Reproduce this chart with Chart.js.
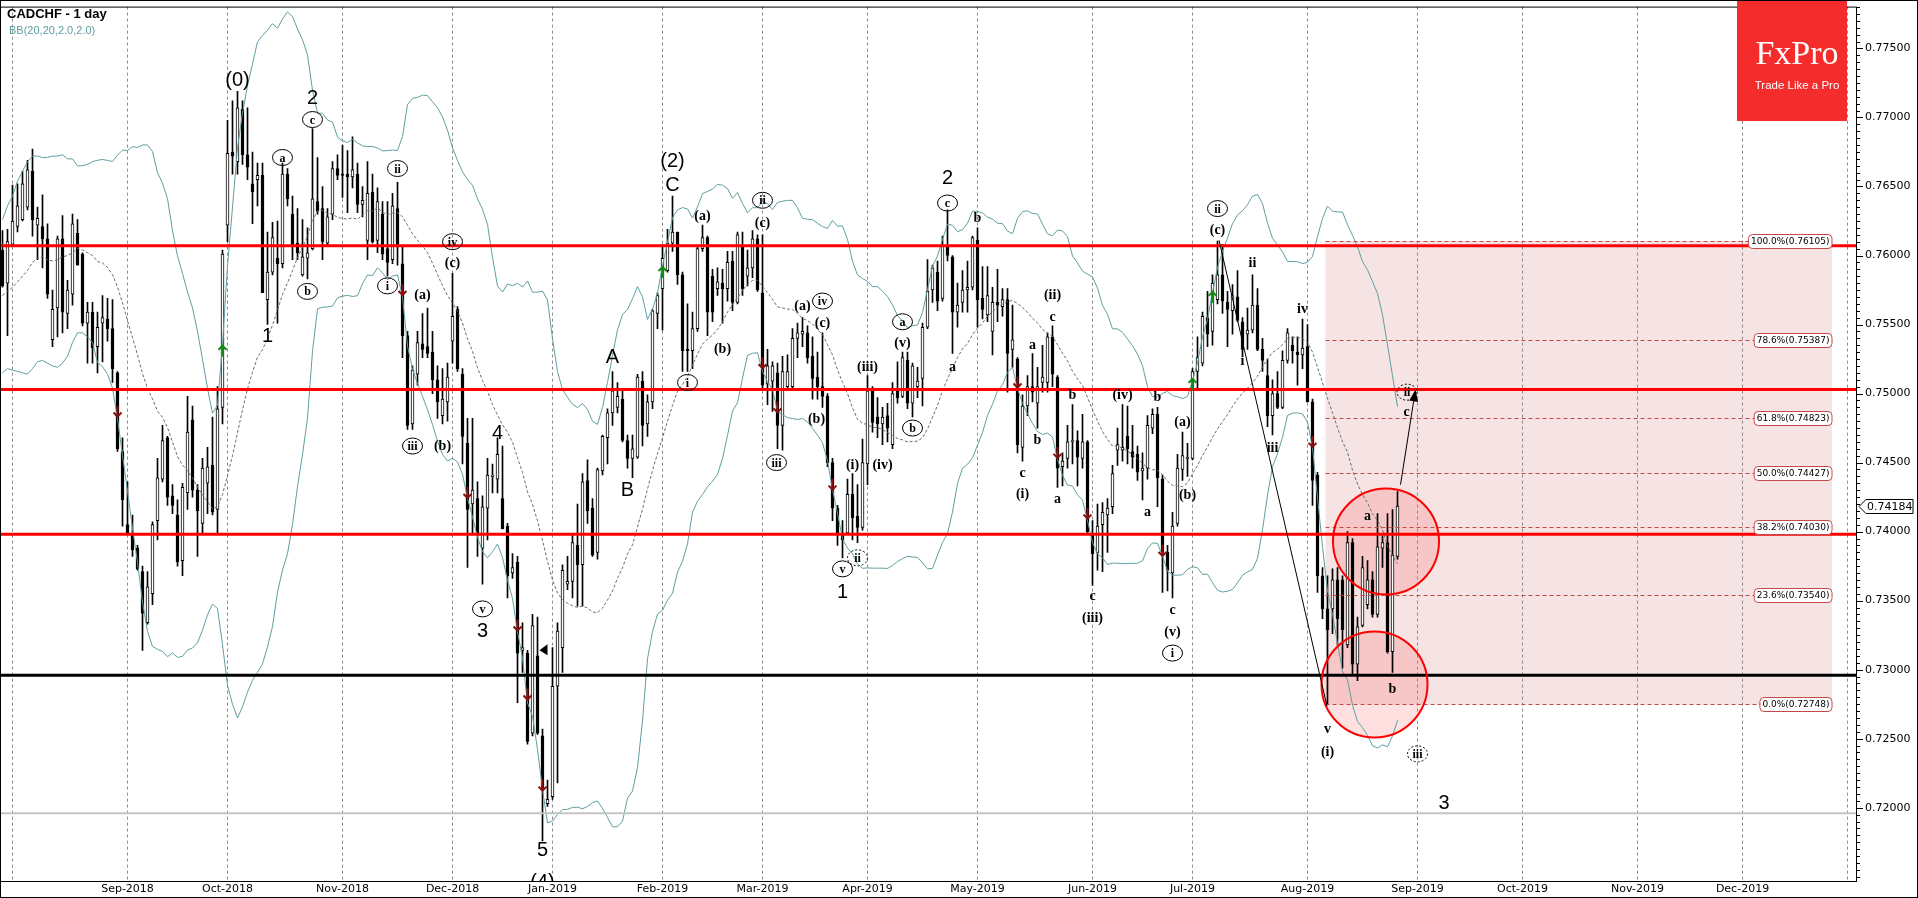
<!DOCTYPE html>
<html>
<head>
<meta charset="utf-8">
<script src="https://cdn.jsdelivr.net/npm/chart.js"></script>
<style>
html, body { margin: 0; padding: 0; background: #fff; }
canvas { display: block; }
</style>
</head>
<body>
<canvas id="chart" width="1918" height="898"></canvas>
<script>
// CADCHF daily candles, first bar = Jul 30 2018 (index -2), index 0 = Aug 1 2018
const firstBar = -2;

const opens = [
  0.7604,0.7580,0.7608,0.7621,0.7626,0.7635,0.7661,0.7622,0.7621,0.7612,
  0.7539,0.7562,0.7612,0.7558,0.7572,0.7616,0.7601,0.7551,0.7559,0.7534,
  0.7551,0.7554,0.7547,0.7515,0.7458,0.7405,0.7399,0.7388,0.7371,0.7334,
  0.7355,0.7408,0.7438,0.7468,0.7426,0.7412,0.7379,0.7428,0.7481,0.7430,
  0.7406,0.7435,0.7448,0.7416,0.7490,0.7622,0.7675,0.7668,0.7706,0.7673,
  0.7652,0.7655,0.7658,0.7568,0.7588,0.7598,0.7594,0.7659,0.7630,0.7609,
  0.7586,0.7598,0.7605,0.7639,0.7634,0.7609,0.7630,0.7663,0.7659,0.7659,
  0.7657,0.7659,0.7637,0.7611,0.7646,0.7611,0.7630,0.7605,0.7597,0.7634,
  0.7594,0.7542,0.7478,0.7514,0.7536,0.7534,0.7530,0.7510,0.7484,0.7494,
  0.7538,0.7561,0.7514,0.7464,0.7420,0.7424,0.7388,0.7417,0.7440,0.7438,
  0.7424,0.7404,0.7370,0.7378,0.7314,0.7312,0.7254,0.7310,0.7252,0.7203,
  0.7208,0.7288,0.7316,0.7362,0.7364,0.7390,0.7376,0.7437,0.7417,0.7385,
  0.7444,0.7468,0.7486,0.7490,0.7496,0.7466,0.7453,0.7454,0.7509,0.7478,
  0.7494,0.7558,0.7576,0.7589,0.7609,0.7617,0.7586,0.7532,0.7531,0.7547,
  0.7605,0.7613,0.7585,0.7576,0.7580,0.7576,0.7596,0.7566,0.7606,0.7585,
  0.7591,0.7612,0.7573,0.7507,0.7509,0.7515,0.7477,0.7505,0.7505,0.7540,
  0.7543,0.7544,0.7527,0.7512,0.7505,0.7498,0.7450,0.7417,0.7399,0.7399,
  0.7427,0.7411,0.7403,0.7449,0.7502,0.7483,0.7478,0.7484,0.7463,0.7502,
  0.7498,0.7524,0.7493,0.7505,0.7511,0.7548,0.7575,0.7588,0.7569,0.7607,
  0.7599,0.7559,0.7566,0.7575,0.7577,0.7611,0.7569,0.7557,0.7545,0.7566,
  0.7563,0.7568,0.7532,0.7525,0.7461,0.7491,0.7505,0.7493,0.7508,0.7508,
  0.7541,0.7512,0.7447,0.7453,0.7465,0.7466,0.7453,0.7465,0.7399,0.7385,
  0.7405,0.7412,0.7418,0.7459,0.7459,0.7469,0.7458,0.7456,0.7444,0.7446,
  0.7475,0.7485,0.7438,0.7385,0.7370,0.7406,0.7445,0.7453,0.7453,0.7516,
  0.7522,0.7555,0.7545,0.7568,0.7586,0.7566,0.7560,0.7570,0.7552,0.7543,
  0.7546,0.7564,0.7532,0.7513,0.7484,0.7500,0.7490,0.7524,0.7535,0.7530,
  0.7528,0.7534,0.7494,0.7441,0.7368,0.7344,0.7344,0.7365,0.7365,0.7318,
  0.7392,0.7304,0.7332,0.7347,0.7365,0.7340,0.7388,0.7392,0.7313,0.7382
];
const highs = [
  0.7618,0.7619,0.7651,0.7652,0.7661,0.7669,0.7677,0.7635,0.7644,0.7623,
  0.7575,0.7614,0.7629,0.7582,0.7630,0.7626,0.7602,0.7566,0.7566,0.7559,
  0.7571,0.7569,0.7568,0.7516,0.7468,0.7436,0.7412,0.7390,0.7375,0.7371,
  0.7407,0.7453,0.7477,0.7469,0.7434,0.7423,0.7435,0.7498,0.7491,0.7434,
  0.7453,0.7461,0.7483,0.7505,0.7604,0.7698,0.7712,0.7719,0.7712,0.7707,
  0.7675,0.7667,0.7667,0.7617,0.7624,0.7625,0.7667,0.7663,0.7643,0.7634,
  0.7626,0.7620,0.7692,0.7671,0.7650,0.7634,0.7668,0.7673,0.7680,0.7676,
  0.7686,0.7667,0.7650,0.7668,0.7659,0.7649,0.7639,0.7639,0.7645,0.7653,
  0.7606,0.7545,0.7520,0.7545,0.7558,0.7562,0.7545,0.7520,0.7518,0.7522,
  0.7587,0.7563,0.7518,0.7482,0.7482,0.7436,0.7426,0.7453,0.7449,0.7468,
  0.7462,0.7406,0.7384,0.7382,0.7334,0.7314,0.7340,0.7338,0.7257,0.7220,
  0.7316,0.7334,0.7376,0.7382,0.7398,0.7420,0.7442,0.7452,0.7424,0.7446,
  0.7470,0.7489,0.7516,0.7508,0.7502,0.7470,0.7470,0.7514,0.7516,0.7499,
  0.7561,0.7573,0.7608,0.7619,0.7643,0.7617,0.7588,0.7565,0.7559,0.7607,
  0.7622,0.7614,0.7590,0.7591,0.7590,0.7603,0.7603,0.7617,0.7617,0.7604,
  0.7618,0.7615,0.7615,0.7532,0.7523,0.7522,0.7527,0.7528,0.7547,0.7551,
  0.7555,0.7549,0.7541,0.7530,0.7544,0.7500,0.7453,0.7419,0.7408,0.7438,
  0.7442,0.7434,0.7467,0.7513,0.7505,0.7497,0.7490,0.7493,0.7508,0.7523,
  0.7530,0.7530,0.7522,0.7519,0.7551,0.7597,0.7593,0.7596,0.7614,0.7633,
  0.7600,0.7580,0.7589,0.7596,0.7614,0.7620,0.7592,0.7592,0.7577,0.7590,
  0.7576,0.7576,0.7564,0.7526,0.7499,0.7513,0.7529,0.7519,0.7535,0.7544,
  0.7549,0.7513,0.7457,0.7477,0.7492,0.7473,0.7485,0.7466,0.7408,0.7420,
  0.7421,0.7424,0.7448,0.7475,0.7492,0.7491,0.7477,0.7462,0.7457,0.7484,
  0.7489,0.7490,0.7441,0.7390,0.7414,0.7456,0.7472,0.7464,0.7518,0.7541,
  0.7559,0.7574,0.7586,0.76105,0.7608,0.7574,0.7579,0.7589,0.7555,0.7562,
  0.7586,0.7576,0.7540,0.7525,0.7510,0.7516,0.7531,0.7547,0.7541,0.7541,
  0.7554,0.7550,0.7496,0.7443,0.7374,0.7368,0.7373,0.7374,0.7368,0.7400,
  0.7395,0.7338,0.7382,0.7379,0.7371,0.7413,0.7397,0.7413,0.7416,0.7429
];
const lows = [
  0.7577,0.7542,0.7607,0.7617,0.7625,0.7633,0.7614,0.7597,0.7591,0.7569,
  0.7534,0.7541,0.7544,0.7547,0.7564,0.7593,0.7549,0.7522,0.7522,0.7515,
  0.7523,0.7538,0.7508,0.7458,0.7404,0.7398,0.7382,0.7372,0.7314,0.7333,
  0.7347,0.7394,0.7436,0.7419,0.7413,0.7375,0.7368,0.7416,0.7425,0.7382,
  0.7399,0.7413,0.7412,0.7398,0.7478,0.7610,0.7659,0.7659,0.7666,0.7655,
  0.7623,0.7636,0.7573,0.7550,0.7586,0.7551,0.7591,0.7636,0.7597,0.7597,
  0.7585,0.7583,0.7604,0.7630,0.7597,0.7607,0.7626,0.7655,0.7642,0.7631,
  0.7649,0.7631,0.7628,0.7597,0.7609,0.7602,0.7597,0.7585,0.7594,0.7593,
  0.7526,0.7474,0.7474,0.7506,0.7526,0.7526,0.7500,0.7482,0.7478,0.7480,
  0.7522,0.7516,0.7449,0.7374,0.7398,0.7382,0.7362,0.7394,0.7428,0.7428,
  0.7402,0.7352,0.7366,0.7276,0.7298,0.7246,0.7252,0.7253,0.7176,0.7201,
  0.7206,0.7218,0.7298,0.7358,0.7352,0.7346,0.7346,0.7406,0.7382,0.7380,
  0.7441,0.7449,0.7477,0.7486,0.7465,0.7446,0.7439,0.7453,0.7462,0.7469,
  0.7489,0.7547,0.7546,0.7588,0.7603,0.7579,0.7516,0.7516,0.7518,0.7545,
  0.7603,0.7542,0.7552,0.7571,0.7551,0.7567,0.7560,0.7565,0.7571,0.7578,
  0.7584,0.7574,0.7504,0.7492,0.7487,0.7460,0.7459,0.7504,0.7504,0.7526,
  0.7534,0.7522,0.7496,0.7496,0.7490,0.7447,0.7408,0.7390,0.7381,0.7398,
  0.7394,0.7392,0.7401,0.7434,0.7472,0.7468,0.7463,0.7465,0.7460,0.7493,
  0.7497,0.7489,0.7483,0.7497,0.7491,0.7547,0.7566,0.7560,0.7567,0.7596,
  0.7529,0.7548,0.7559,0.7559,0.7575,0.7548,0.7554,0.7552,0.7528,0.7552,
  0.7556,0.7501,0.7519,0.7457,0.7451,0.7484,0.7494,0.7475,0.7501,0.7501,
  0.7505,0.7432,0.7433,0.7446,0.7449,0.7433,0.7446,0.7399,0.7361,0.7372,
  0.7371,0.7385,0.7413,0.7448,0.7451,0.7449,0.7446,0.7437,0.7423,0.7438,
  0.7471,0.7418,0.7356,0.7357,0.7352,0.7404,0.7437,0.7440,0.7452,0.7503,
  0.7520,0.7534,0.7535,0.7565,0.7558,0.7534,0.7543,0.7552,0.7528,0.7532,
  0.7544,0.7531,0.7516,0.7476,0.7470,0.7489,0.7489,0.7522,0.7522,0.7506,
  0.7518,0.7494,0.7419,0.7356,0.7337,0.72748,0.7326,0.7318,0.7301,0.7316,
  0.7297,0.7292,0.7331,0.7344,0.7338,0.7338,0.7374,0.7312,0.7298,0.7380
];
const closes = [
  0.7578,0.7610,0.7625,0.7636,0.7652,0.7662,0.7626,0.7627,0.7612,0.7572,
  0.7561,0.7612,0.7559,0.7575,0.7623,0.7593,0.7551,0.7559,0.7533,0.7548,
  0.7555,0.7547,0.7518,0.7460,0.7423,0.7399,0.7387,0.7373,0.7341,0.7360,
  0.7405,0.7439,0.7466,0.7425,0.7419,0.7378,0.7432,0.7472,0.7430,0.7415,
  0.7446,0.7447,0.7414,0.7489,0.7601,0.7674,0.7672,0.7707,0.7673,0.7664,
  0.7646,0.7658,0.7573,0.7588,0.7613,0.7594,0.7659,0.7641,0.7607,0.7602,
  0.7599,0.7602,0.7641,0.7632,0.7610,0.7628,0.7663,0.7658,0.7658,0.7657,
  0.7662,0.7637,0.7640,0.7645,0.7610,0.7639,0.7601,0.7595,0.7636,0.7607,
  0.7542,0.7477,0.7517,0.7537,0.7532,0.7529,0.7510,0.7494,0.7496,0.7512,
  0.7556,0.7518,0.7469,0.7416,0.7430,0.7398,0.7418,0.7441,0.7441,0.7456,
  0.7402,0.7368,0.7374,0.7312,0.7316,0.7248,0.7332,0.7254,0.7214,0.7206,
  0.7288,0.7328,0.7372,0.7364,0.7392,0.7376,0.7436,0.7415,0.7383,0.7445,
  0.7469,0.7486,0.7502,0.7498,0.7466,0.7453,0.7460,0.7512,0.7477,0.7494,
  0.7560,0.7571,0.7598,0.7609,0.7617,0.7586,0.7531,0.7531,0.7547,0.7605,
  0.7613,0.7559,0.7559,0.7581,0.7576,0.7595,0.7566,0.7615,0.7576,0.7591,
  0.7612,0.7575,0.7506,0.7520,0.7520,0.7477,0.7516,0.7516,0.7540,0.7544,
  0.7545,0.7526,0.7511,0.7505,0.7498,0.7450,0.7417,0.7399,0.7394,0.7427,
  0.7410,0.7403,0.7450,0.7502,0.7479,0.7478,0.7483,0.7475,0.7500,0.7497,
  0.7526,0.7493,0.7520,0.7509,0.7548,0.7574,0.7591,0.7567,0.7607,0.7600,
  0.7559,0.7564,0.7575,0.7577,0.7613,0.7568,0.7561,0.7571,0.7566,0.7564,
  0.7568,0.7529,0.7539,0.7463,0.7491,0.7505,0.7501,0.7505,0.7512,0.7541,
  0.7514,0.7446,0.7451,0.7465,0.7466,0.7454,0.7465,0.7400,0.7384,0.7404,
  0.7414,0.7417,0.7442,0.7463,0.7461,0.7460,0.7454,0.7443,0.7446,0.7477,
  0.7485,0.7439,0.7385,0.7372,0.7404,0.7446,0.7455,0.7454,0.7516,0.7526,
  0.7556,0.7543,0.7580,0.7586,0.7567,0.7561,0.7571,0.7553,0.7532,0.7546,
  0.7564,0.7532,0.7524,0.7484,0.7500,0.7490,0.7524,0.7544,0.7531,0.7528,
  0.7533,0.7494,0.7437,0.7368,0.7344,0.7329,0.7365,0.7337,0.7329,0.7392,
  0.7304,0.7331,0.7374,0.7365,0.7340,0.7389,0.7392,0.7313,0.7383,0.74184
];

// Bollinger bands for the bars before a full 20-bar window exists
const bbHeadUpper = [0.7626,0.7636,0.7643,0.7654,0.7661,0.7668,0.7672,0.7672,0.7671,0.7671,
                     0.7672,0.7672,0.7673,0.7670,0.7670,0.7665,0.7665,0.7666,0.7668];
const bbHeadMid   = [0.7571,0.7574,0.7577,0.7581,0.7585,0.7589,0.7595,0.7598,0.7599,0.7597,
                     0.7596,0.7597,0.7599,0.7600,0.7602,0.7605,0.7604,0.7602,0.7600];
const bbHeadLower = [0.7515,0.7518,0.7517,0.7516,0.7515,0.7514,0.7518,0.7523,0.7524,0.7522,
                     0.7520,0.7519,0.7522,0.7527,0.7537,0.7544,0.7544,0.7541,0.7537];

// axes
const monthTickIdx = [0, 23, 43, 66, 88, 108, 130, 150, 171, 193, 216, 236, 259, 281, 302, 325, 346, 367];
const monthTickLabels = ['', 'Sep-2018', 'Oct-2018', 'Nov-2018', 'Dec-2018', 'Jan-2019', 'Feb-2019',
  'Mar-2019', 'Apr-2019', 'May-2019', 'Jun-2019', 'Jul-2019', 'Aug-2019', 'Sep-2019', 'Oct-2019',
  'Nov-2019', 'Dec-2019', ''];
const priceTicks = [0.720, 0.725, 0.730, 0.735, 0.740, 0.745, 0.750, 0.755, 0.760, 0.765, 0.770, 0.775];
const xMin = -2.5, xMax = 368.9;
const yMin = 0.71469, yMax = 0.77803;

// drawn objects
const redLevels = [0.7607, 0.7503, 0.7398];
const blackLevel = 0.7296;
const grayLevel = 0.7196;
const fibPct = [100, 78.6, 61.8, 50, 38.2, 23.6, 0];
const fibPrice = [0.76105, 0.75387, 0.74823, 0.74427, 0.74030, 0.73540, 0.72748];
const fibStart = 262.6, fibEnd = 363.9;
const zoneCircles = [[274.7, 0.73928], [272.4, 0.72892]];
const trendLine = [[241.3, 0.76110], [262.9, 0.72735]];
const projArrow = [[277.6, 0.7434], [280.6, 0.7503]];
const lastPrice = 0.74184;
const downSignals = [[21, 0.7487], [78, 0.7575], [91, 0.7428], [101, 0.7332], [103, 0.7282], [106, 0.7216],
  [150, 0.7522], [153, 0.7490], [164, 0.7434], [201, 0.7508], [209, 0.7457], [215, 0.7413], [230, 0.7386], [260, 0.7465]];
const upSignals = [[42, 0.7531], [130, 0.7588], [236, 0.7507], [240, 0.7570]];

const waveLabels = [
  [45, 0.7727, '(0)', 'big'], [60, 0.7714, '2', 'big'], [60, 0.76985, 'c', 'circ'],
  [54, 0.7671, 'a', 'circ'], [51, 0.7541, '1', 'big'], [59, 0.7574, 'b', 'circ'],
  [75, 0.7578, 'i', 'circ'], [77, 0.7663, 'ii', 'circ'], [88, 0.7610, 'iv', 'circ'],
  [88, 0.7594, '(c)', 'ser'], [82, 0.7571, '(a)', 'ser'], [80, 0.7462, 'iii', 'circ'],
  [86, 0.7462, '(b)', 'ser'], [97, 0.7471, '4', 'big'], [94, 0.7344, 'v', 'circ'],
  [94, 0.7328, '3', 'big'], [106, 0.7169, '5', 'big'], [106, 0.7146, '(4)', 'big'],
  [120, 0.7526, 'A', 'big'], [123, 0.7430, 'B', 'big'], [132, 0.7668, '(2)', 'big'],
  [132, 0.7651, 'C', 'big'], [138, 0.7628, '(a)', 'ser'], [142, 0.7532, '(b)', 'ser'],
  [135, 0.7508, 'i', 'circ'], [150, 0.7640, 'ii', 'circ'], [150, 0.7623, '(c)', 'ser'],
  [152.8, 0.7450, 'iii', 'circ'], [158, 0.7563, '(a)', 'ser'], [162, 0.7567, 'iv', 'circ'],
  [162, 0.7551, '(c)', 'ser'], [160.8, 0.7481, '(b)', 'ser'], [166, 0.7373, 'v', 'circ'],
  [166, 0.7356, '1', 'big'], [168, 0.7448, '(i)', 'ser'], [169, 0.7381, 'ii', 'dcirc'],
  [171, 0.7519, '(iii)', 'ser'], [174, 0.7448, '(iv)', 'ser'], [178, 0.7552, 'a', 'circ'],
  [178, 0.7536, '(v)', 'ser'], [180, 0.7475, 'b', 'circ'], [188, 0.7519, 'a', 'ser'],
  [187, 0.7656, '2', 'big'], [187, 0.7638, 'c', 'circ'], [193, 0.7627, 'b', 'ser'],
  [208, 0.7571, '(ii)', 'ser'], [208, 0.7555, 'c', 'ser'], [204, 0.7535, 'a', 'ser'],
  [202, 0.7442, 'c', 'ser'], [202, 0.7427, '(i)', 'ser'], [205, 0.7466, 'b', 'ser'],
  [212, 0.7499, 'b', 'ser'], [209, 0.7423, 'a', 'ser'], [216, 0.7353, 'c', 'ser'],
  [216, 0.7337, '(iii)', 'ser'], [222, 0.7499, '(iv)', 'ser'], [229, 0.7497, 'b', 'ser'],
  [227, 0.7414, 'a', 'ser'], [232, 0.7343, 'c', 'ser'], [232, 0.7327, '(v)', 'ser'],
  [232, 0.7312, 'i', 'circ'], [234, 0.7479, '(a)', 'ser'], [235, 0.7426, '(b)', 'ser'],
  [241, 0.7634, 'ii', 'circ'], [241, 0.7618, '(c)', 'ser'], [248, 0.7594, 'ii', 'ser'],
  [246, 0.7523, 'i', 'ser'], [252, 0.7460, 'iii', 'ser'], [258, 0.7561, 'iv', 'ser'],
  [263, 0.7257, 'v', 'ser'], [263, 0.7240, '(i)', 'ser'], [271, 0.7411, 'a', 'ser'],
  [276, 0.7286, 'b', 'ser'], [278.9, 0.7501, 'ii', 'dcirc'], [278.8, 0.7486, 'c', 'ser'],
  [281, 0.7239, 'iii', 'dcirc'], [286.3, 0.7203, '3', 'big']
];

// ---- build datasets ----
const barIdx = opens.map((o, k) => k + firstBar);
const wickData = barIdx.map((i, k) => ({ x: i, y: [lows[k], highs[k]] }));
const bodyData = barIdx.map((i, k) => ({ x: i, y: [opens[k], closes[k]] }));
const bodyFill = barIdx.map((i, k) => closes[k] >= opens[k] ? '#ffffff' : '#000000');

// BB(20, 2) from the closes
const bbUpper = [], bbMid = [], bbLower = [];
barIdx.forEach((i, k) => {
  if (k < bbHeadMid.length) {
    bbUpper.push({ x: i, y: bbHeadUpper[k] });
    bbMid.push({ x: i, y: bbHeadMid[k] });
    bbLower.push({ x: i, y: bbHeadLower[k] });
    return;
  }
  const win = closes.slice(k - 19, k + 1);
  const m = win.reduce((a, b) => a + b, 0) / win.length;
  const sd = Math.sqrt(win.reduce((a, b) => a + (b - m) * (b - m), 0) / win.length);
  bbUpper.push({ x: i, y: m + 2 * sd });
  bbMid.push({ x: i, y: m });
  bbLower.push({ x: i, y: m - 2 * sd });
});

// ---- drawing helpers ----
function drawWave(ctx, px, py, text, kind) {
  ctx.textAlign = 'center';
  ctx.textBaseline = 'middle';
  ctx.fillStyle = '#000';
  if (kind === 'big') {
    ctx.font = '20px "Liberation Sans", Arial, sans-serif';
    ctx.fillText(text, px, py);
  } else if (kind === 'ser') {
    ctx.font = 'bold 14px "Liberation Serif", "Times New Roman", serif';
    ctx.fillText(text, px, py);
  } else {
    ctx.font = 'bold 12px "Liberation Serif", "Times New Roman", serif';
    const w = ctx.measureText(text).width;
    const rx = Math.max(10, w / 2 + 5);
    ctx.beginPath();
    ctx.ellipse(px, py, rx, 8, 0, 0, Math.PI * 2);
    ctx.strokeStyle = '#000';
    ctx.lineWidth = 1;
    ctx.setLineDash(kind === 'dcirc' ? [2, 2] : []);
    ctx.stroke();
    ctx.setLineDash([]);
    ctx.fillText(text, px, py + 1);
  }
}

function drawSignal(ctx, px, py, dir) {
  ctx.strokeStyle = dir < 0 ? '#8b0d0d' : '#108a10';
  ctx.lineWidth = 2;
  const s = dir < 0 ? 1 : -1;
  ctx.beginPath();
  ctx.moveTo(px, py - 6 * s);
  ctx.lineTo(px, py + 5 * s);
  ctx.moveTo(px - 4, py + 1 * s);
  ctx.lineTo(px, py + 5 * s);
  ctx.lineTo(px + 4, py + 1 * s);
  ctx.stroke();
}

const overlay = {
  id: 'overlay',
  beforeDatasetsDraw(chart) {
    const { ctx, chartArea: a, scales: { x, y } } = chart;
    ctx.save();
    // fibonacci zone
    const fx1 = x.getPixelForValue(fibStart), fx2 = x.getPixelForValue(fibEnd);
    const fy1 = y.getPixelForValue(fibPrice[0]), fy2 = y.getPixelForValue(fibPrice[fibPrice.length - 1]);
    ctx.fillStyle = '#f6e3e3';
    ctx.fillRect(fx1, fy1, fx2 - fx1, fy2 - fy1);
    // circle fills
    zoneCircles.forEach(([ci, cp]) => {
      ctx.beginPath();
      ctx.arc(x.getPixelForValue(ci), y.getPixelForValue(cp), 53, 0, Math.PI * 2);
      ctx.fillStyle = 'rgba(255,0,0,0.12)';
      ctx.fill();
    });
    // vertical grid
    ctx.strokeStyle = '#8a8a8a';
    ctx.lineWidth = 1;
    ctx.setLineDash([3, 3]);
    monthTickIdx.forEach(i => {
      const px = x.getPixelForValue(i);
      ctx.beginPath();
      ctx.moveTo(px, a.top);
      ctx.lineTo(px, a.bottom);
      ctx.stroke();
    });
    ctx.restore();
  },
  afterDatasetsDraw(chart) {
    const { ctx, chartArea: a, scales: { x, y } } = chart;
    ctx.save();
    ctx.beginPath();
    ctx.rect(a.left, a.top, a.right - a.left, a.bottom - a.top);
    ctx.clip();

    // horizontal levels
    const hline = (p, color, w) => {
      const py = y.getPixelForValue(p);
      ctx.strokeStyle = color;
      ctx.lineWidth = w;
      ctx.beginPath();
      ctx.moveTo(a.left, py);
      ctx.lineTo(a.right, py);
      ctx.stroke();
    };
    hline(grayLevel, '#c4c4c4', 2);
    redLevels.forEach(p => hline(p, '#ff0000', 3));
    hline(blackLevel, '#000000', 3);

    // fibonacci levels
    const fx1 = x.getPixelForValue(fibStart), fx2 = x.getPixelForValue(fibEnd);
    ctx.lineWidth = 1;
    ctx.strokeStyle = '#c44a4a';
    ctx.setLineDash([4, 3]);
    fibPrice.forEach(p => {
      const py = Math.round(y.getPixelForValue(p)) + 0.5;
      ctx.beginPath();
      ctx.moveTo(fx1, py);
      ctx.lineTo(fx2, py);
      ctx.stroke();
    });
    ctx.setLineDash([]);
    ctx.font = '9px "DejaVu Sans", sans-serif';
    ctx.textAlign = 'left';
    ctx.textBaseline = 'middle';
    fibPrice.forEach((p, k) => {
      const txt = fibPct[k].toFixed(1) + '%(' + p.toFixed(5) + ')';
      const w = ctx.measureText(txt).width + 5;
      const py = Math.round(y.getPixelForValue(p)) + 0.5;
      ctx.beginPath();
      ctx.roundRect(fx2 - w, py - 7, w, 14, 4);
      ctx.fillStyle = '#ffffff';
      ctx.fill();
      ctx.strokeStyle = '#c44a4a';
      ctx.stroke();
      ctx.fillStyle = '#000';
      ctx.fillText(txt, fx2 - w + 2.5, py + 0.5);
    });

    // circles
    zoneCircles.forEach(([ci, cp]) => {
      ctx.beginPath();
      ctx.arc(x.getPixelForValue(ci), y.getPixelForValue(cp), 53, 0, Math.PI * 2);
      ctx.strokeStyle = '#ff0000';
      ctx.lineWidth = 2;
      ctx.stroke();
    });

    // trend line
    ctx.strokeStyle = '#000';
    ctx.lineWidth = 1;
    ctx.beginPath();
    ctx.moveTo(x.getPixelForValue(trendLine[0][0]), y.getPixelForValue(trendLine[0][1]));
    ctx.lineTo(x.getPixelForValue(trendLine[1][0]), y.getPixelForValue(trendLine[1][1]));
    ctx.stroke();

    // projection arrow
    const ax1 = x.getPixelForValue(projArrow[0][0]), ay1 = y.getPixelForValue(projArrow[0][1]);
    const ax2 = x.getPixelForValue(projArrow[1][0]), ay2 = y.getPixelForValue(projArrow[1][1]);
    const ang = Math.atan2(ay2 - ay1, ax2 - ax1);
    ctx.beginPath();
    ctx.moveTo(ax1, ay1);
    ctx.lineTo(ax2 - 8 * Math.cos(ang), ay2 - 8 * Math.sin(ang));
    ctx.stroke();
    ctx.beginPath();
    ctx.moveTo(ax2, ay2);
    ctx.lineTo(ax2 - 12 * Math.cos(ang) + 4.5 * Math.sin(ang), ay2 - 12 * Math.sin(ang) - 4.5 * Math.cos(ang));
    ctx.lineTo(ax2 - 12 * Math.cos(ang) - 4.5 * Math.sin(ang), ay2 - 12 * Math.sin(ang) + 4.5 * Math.cos(ang));
    ctx.closePath();
    ctx.fillStyle = '#000';
    ctx.fill();

    // small black marker
    const fpx = x.getPixelForValue(106), fpy = y.getPixelForValue(0.7314);
    ctx.beginPath();
    ctx.moveTo(fpx - 3, fpy);
    ctx.lineTo(fpx + 5, fpy - 6);
    ctx.lineTo(fpx + 5, fpy + 5);
    ctx.closePath();
    ctx.fill();

    // signals
    downSignals.forEach(([i, p]) => drawSignal(ctx, x.getPixelForValue(i), y.getPixelForValue(p), -1));
    upSignals.forEach(([i, p]) => drawSignal(ctx, x.getPixelForValue(i), y.getPixelForValue(p), 1));

    // wave labels
    waveLabels.forEach(([i, p, t, k]) => drawWave(ctx, x.getPixelForValue(i), y.getPixelForValue(p), t, k));
    ctx.restore();
  },
  afterDraw(chart) {
    const { ctx, chartArea: a, scales: { y } } = chart;
    ctx.save();
    // plot frame
    ctx.strokeStyle = '#000';
    ctx.lineWidth = 1;
    ctx.strokeRect(a.left + 0.5, a.top + 0.5, a.right - a.left - 1, a.bottom - a.top);
    // price axis tick marks
    for (let k = Math.ceil(yMin / 0.0005); k <= Math.floor(yMax / 0.0005); k++) {
      const p = k * 0.0005;
      const major = priceTicks.some(v => Math.abs(v - p) < 1e-7);
      const py = Math.round(y.getPixelForValue(p)) + 0.5;
      ctx.beginPath();
      ctx.moveTo(a.right, py);
      ctx.lineTo(a.right + (major ? 6 : 3), py);
      ctx.stroke();
    }
    // last price marker
    const lp = Math.round(y.getPixelForValue(lastPrice)) + 0.5;
    ctx.beginPath();
    ctx.moveTo(a.right + 2, lp);
    ctx.lineTo(a.right + 9, lp - 7);
    ctx.lineTo(a.right + 56, lp - 7);
    ctx.lineTo(a.right + 56, lp + 7);
    ctx.lineTo(a.right + 9, lp + 7);
    ctx.closePath();
    ctx.fillStyle = '#fff';
    ctx.fill();
    ctx.stroke();
    ctx.fillStyle = '#000';
    ctx.font = '11px "DejaVu Sans", sans-serif';
    ctx.textAlign = 'left';
    ctx.textBaseline = 'middle';
    ctx.fillText(lastPrice.toFixed(5), a.right + 10, lp + 0.5);

    // titles
    ctx.textBaseline = 'alphabetic';
    ctx.font = 'bold 13px "Liberation Sans", Arial, sans-serif';
    ctx.fillText('CADCHF - 1 day', 7, 18);
    ctx.font = '11px "Liberation Sans", Arial, sans-serif';
    ctx.fillStyle = '#5f9ea0';
    ctx.fillText('BB(20,20,2.0,2.0)', 9, 34);

    // FxPro badge
    ctx.fillStyle = '#f42c2c';
    ctx.fillRect(1737, 1, 110, 120);
    ctx.fillStyle = '#fff';
    ctx.textAlign = 'center';
    ctx.font = '34px "Liberation Serif", "Times New Roman", serif';
    ctx.fillText('FxPro', 1797, 64);
    ctx.font = '11.5px "Liberation Sans", Arial, sans-serif';
    ctx.fillText('Trade Like a Pro', 1797, 89);

    // outer border
    ctx.strokeStyle = '#000';
    ctx.strokeRect(0.5, 0.5, 1917, 897);
    ctx.restore();
  }
};

new Chart(document.getElementById('chart'), {
  type: 'bar',
  data: {
    datasets: [
      { type: 'line', data: bbUpper, borderColor: '#5f9ea0', borderWidth: 1, pointRadius: 0, tension: 0, order: 0 },
      { type: 'line', data: bbMid, borderColor: '#5b7272', borderWidth: 1, borderDash: [3, 2], pointRadius: 0, tension: 0, order: 0 },
      { type: 'line', data: bbLower, borderColor: '#5f9ea0', borderWidth: 1, pointRadius: 0, tension: 0, order: 0 },
      { data: wickData, backgroundColor: '#000', borderWidth: 0, barThickness: 1, grouped: false, order: 2 },
      { data: bodyData, backgroundColor: bodyFill, borderColor: '#000', borderWidth: 1, borderSkipped: false,
        barThickness: 3, minBarLength: 1, grouped: false, order: 1 }
    ]
  },
  options: {
    responsive: false,
    animation: false,
    events: [],
    layout: { padding: 0 },
    plugins: { legend: { display: false }, tooltip: { enabled: false } },
    scales: {
      x: {
        type: 'linear',
        min: xMin,
        max: xMax,
        offset: false,
        grid: { display: false, drawTicks: false },
        border: { display: false },
        afterBuildTicks: s => { s.ticks = monthTickIdx.map(v => ({ value: v })); },
        afterFit: s => { s.height = 17; },
        ticks: {
          autoSkip: false,
          maxRotation: 0,
          padding: 2,
          color: '#000',
          font: { family: '"DejaVu Sans", sans-serif', size: 11 },
          callback: (v, idx) => monthTickLabels[idx]
        }
      },
      y: {
        position: 'right',
        min: yMin,
        max: yMax,
        grid: { display: false },
        border: { display: false },
        afterBuildTicks: s => { s.ticks = [yMin, ...priceTicks, yMax].map(v => ({ value: v })); },
        afterFit: s => { s.width = 61; },
        ticks: {
          autoSkip: false,
          padding: 0,
          color: '#000',
          font: { family: '"DejaVu Sans", sans-serif', size: 11 },
          callback: (v, idx, all) => (idx === 0 || idx === all.length - 1) ? null : v.toFixed(5)
        }
      }
    }
  },
  plugins: [overlay]
});
</script>
</body>
</html>
